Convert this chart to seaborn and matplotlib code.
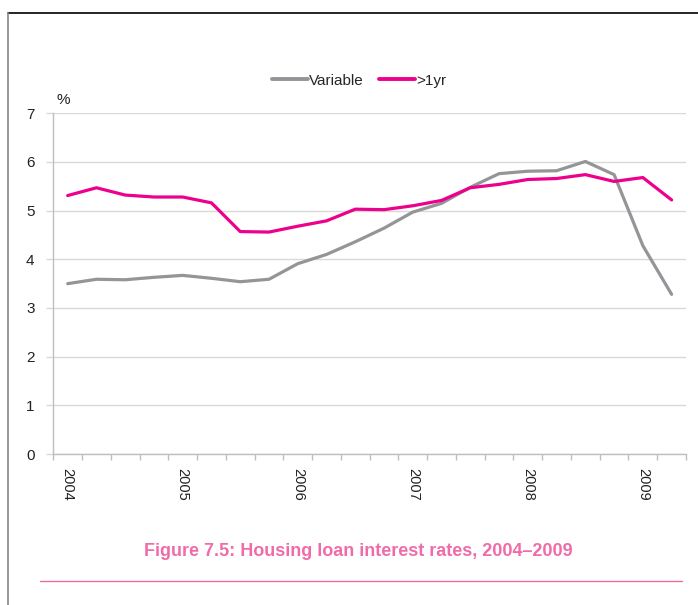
import matplotlib
matplotlib.use("Agg")
import matplotlib.pyplot as plt
from matplotlib.lines import Line2D
import seaborn as sns
import pandas as pd
import numpy as np

# Quarterly observations, 2004 Q1 .. 2009 Q2
quarters = ["2004 Q1", "2004 Q2", "2004 Q3", "2004 Q4",
            "2005 Q1", "2005 Q2", "2005 Q3", "2005 Q4",
            "2006 Q1", "2006 Q2", "2006 Q3", "2006 Q4",
            "2007 Q1", "2007 Q2", "2007 Q3", "2007 Q4",
            "2008 Q1", "2008 Q2", "2008 Q3", "2008 Q4",
            "2009 Q1", "2009 Q2"]
variable = [3.50, 3.59, 3.58, 3.63, 3.67, 3.61, 3.54, 3.59, 3.91, 4.10, 4.36,
            4.64, 4.97, 5.15, 5.48, 5.76, 5.81, 5.82, 6.01, 5.74, 4.28, 3.28]
over_1yr = [5.31, 5.47, 5.32, 5.28, 5.28, 5.16, 4.57, 4.56, 4.68, 4.79, 5.03,
            5.02, 5.10, 5.21, 5.47, 5.54, 5.64, 5.66, 5.74, 5.60, 5.68, 5.22]
year_labels = ["2004", "2005", "2006", "2007", "2008", "2009"]
series_names = ["Variable", ">1yr"]
colors = ["#939598", "#ec008c"]

df = pd.DataFrame({
    "idx": list(range(len(quarters))) * 2,
    "quarter": quarters * 2,
    "value": variable + over_1yr,
    "series": [series_names[0]] * len(quarters) + [series_names[1]] * len(quarters),
})

import matplotlib.font_manager as fm
avail = {f.name for f in fm.fontManager.ttflist}
narrow = "Liberation Sans Narrow" if "Liberation Sans Narrow" in avail else "Liberation Sans"

sns.set_theme(style="white")
plt.rcParams["font.family"] = [narrow, "DejaVu Sans"]

fig = plt.figure(figsize=(6.98, 6.05), dpi=100)
ax = fig.add_axes([53.3 / 698, 1 - 454 / 605, (686 - 53.3) / 698, (454 - 113.3) / 605])

sns.lineplot(data=df, x="idx", y="value", hue="series", palette=colors,
             linewidth=2.3, ax=ax, legend=True)

n = len(quarters)
ax.set_xlim(-0.5, n - 0.5)
ax.set_ylim(0, 7)
ax.set_yticks(range(0, 8))
ax.set_yticklabels([str(v) for v in range(0, 8)], fontsize=11, color="#222222")
ax.yaxis.grid(True, color="#d9d9d9", linewidth=1.0)
ax.xaxis.grid(False)

# Year labels at first quarter of each year, ticks between categories
ax.set_xticks([4 * i for i in range(len(year_labels))])
ax.set_xticklabels(year_labels, rotation=-90, fontsize=10.5, color="#222222")
ax.set_xticks(np.arange(-0.5, n, 1.0), minor=True)
ax.tick_params(axis="x", which="major", length=0, pad=10)
ax.tick_params(axis="x", which="minor", length=4, color="#bfbfbf", width=1, direction="out", bottom=True)
ax.tick_params(axis="y", length=5, color="#d9d9d9", width=1, pad=8.5, left=True)
ax.set_xlabel("")
ax.set_ylabel("")

for s in ["top", "right"]:
    ax.spines[s].set_visible(False)
ax.spines["left"].set_color("#bfbfbf")
ax.spines["bottom"].set_color("#bfbfbf")
ax.spines["left"].set_linewidth(1)
ax.spines["bottom"].set_linewidth(1)

ax.text(-0.4, 7.13, "%", transform=ax.transData, fontsize=11, color="#222222",
        ha="left", va="bottom")

leg = ax.legend(loc="lower center", bbox_to_anchor=(0.483, 1.035), ncol=2, frameon=False,
                fontsize=11, handlelength=2.35, columnspacing=1.0, handletextpad=0.08)
for line in leg.get_lines():
    line.set_linewidth(2.8)

# Frame and caption
fig.add_artist(Line2D([8 / 698, 1.0], [1 - 13 / 605, 1 - 13 / 605], color="black", linewidth=1.2))
fig.add_artist(Line2D([8 / 698, 8 / 698], [0, 1 - 13 / 605], color="#888888", linewidth=1.2))
fig.add_artist(Line2D([40 / 698, 682 / 698], [1 - 581 / 605, 1 - 581 / 605], color="#f06ca8", linewidth=1.0))
fig.text(358 / 698, 1 - 551 / 605, "Figure 7.5: Housing loan interest rates, 2004\u20132009",
         ha="center", va="center", fontsize=13, fontweight="bold", color="#f06ca8")

fig.savefig("out.png", dpi=100, facecolor="white")
